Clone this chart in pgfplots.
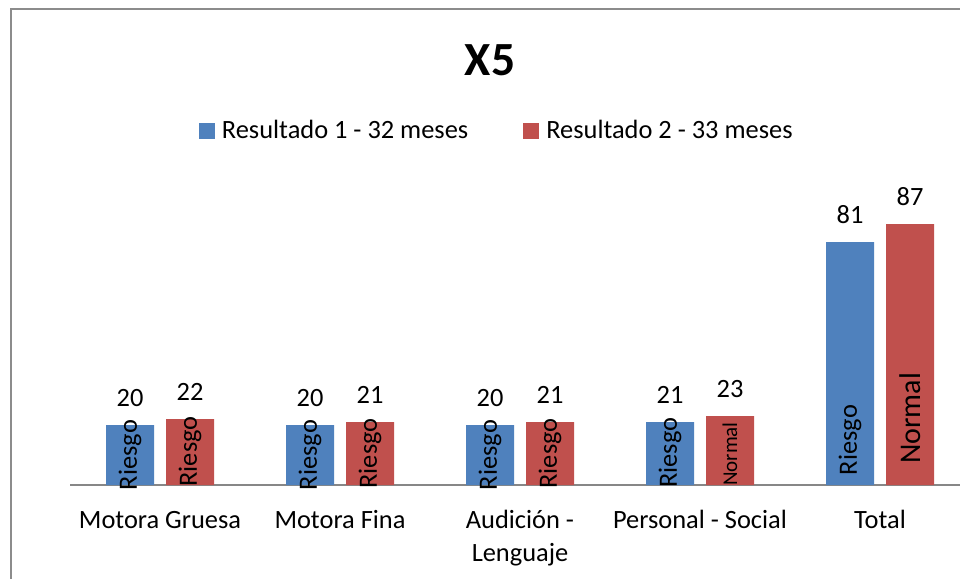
\documentclass[border=0pt]{standalone}
\usepackage{pgfplots}
\pgfplotsset{compat=1.18}
\usepackage{fontspec}
\setmainfont{Carlito}
\definecolor{blueC}{HTML}{4F81BD}
\definecolor{redC}{HTML}{C0504D}
\definecolor{frameC}{HTML}{8C8C8C}
\definecolor{axisC}{HTML}{878787}
\begin{document}
\begin{tikzpicture}
\useasboundingbox (0,0) rectangle (480pt,-289.5pt);
\fill[white] (0,0) rectangle (480pt,-289.5pt);
\draw[frameC, line width=1pt] (5.5pt,-320pt) -- (5.5pt,-4.5pt) -- (520pt,-4.5pt);
\node[font=\bfseries\fontsize{23.8}{28}\selectfont, inner sep=0pt] at (245pt,-30pt) {X5};
\begin{axis}[
  at={(35pt,-242.5pt)}, anchor=south west,
  scale only axis, width=450pt, height=150pt,
  xmin=-0.5, xmax=4.5, ymin=0, ymax=100,
  ybar=6pt, bar width=24pt,
  axis y line=none,
  axis x line*=bottom,
  x axis line style={draw=axisC, line width=0.75pt, -},
  xtick={0,1,2,3,4},
  xticklabels={Motora Gruesa, Motora Fina, {\begin{tabular}[t]{@{}c@{}}Audición -\\Lenguaje\end{tabular}}, Personal - Social, Total},
  xtick style={draw=none},
  xticklabel style={font=\fontsize{13.2}{16.5}\selectfont, anchor=base, yshift=-17.5pt, inner sep=0pt},
  /pgf/number format/assume math mode=true,
  nodes near coords,
  every node near coord/.append style={font=\fontsize{13.2}{15}\selectfont, anchor=center, yshift=13.5pt, text=black},
  clip=false,
  legend columns=2,
  legend style={draw=none, fill=none, at={(0.1433,1.18)}, anchor=west, inner sep=0pt, outer sep=0pt,
    font=\fontsize{13.2}{15}\selectfont,
    /tikz/every even column/.append style={column sep=27.5pt},
    nodes={inner sep=0pt}},
  legend image code/.code={\fill[#1] (0pt,-4pt) rectangle (8pt,4pt); \path (11.5pt,0pt);},
]
\addplot[fill=blueC, draw=none] coordinates {(0,20) (1,20) (2,20) (3,21) (4,81)};
\addplot[fill=redC, draw=none] coordinates {(0,22) (1,21) (2,21) (3,23) (4,87)};
\legend{Resultado 1 - 32 meses, Resultado 2 - 33 meses}
\begin{scope}[every node/.style={inner sep=0pt, font=\fontsize{13.2}{15}\selectfont}]
\node[xshift=-15pt, rotate=90] at (axis cs:0,10) {Riesgo};
\node[xshift=15pt, rotate=90] at (axis cs:0,11.2) {Riesgo};
\node[xshift=-15pt, rotate=90] at (axis cs:1,10) {Riesgo};
\node[xshift=15pt, rotate=90] at (axis cs:1,10.5) {Riesgo};
\node[xshift=-15pt, rotate=90] at (axis cs:2,10) {Riesgo};
\node[xshift=15pt, rotate=90] at (axis cs:2,10.5) {Riesgo};
\node[xshift=-15pt, rotate=90] at (axis cs:3,10.8) {Riesgo};
\node[xshift=15pt, rotate=90, font=\fontsize{10.5}{12}\selectfont] at (axis cs:3,10.3) {Normal};
\node[xshift=-15pt, rotate=90] at (axis cs:4,15) {Riesgo};
\node[xshift=15pt, rotate=90, font=\fontsize{15}{17}\selectfont] at (axis cs:4,22.2) {Normal};
\end{scope}
\end{axis}
\end{tikzpicture}
\end{document}
